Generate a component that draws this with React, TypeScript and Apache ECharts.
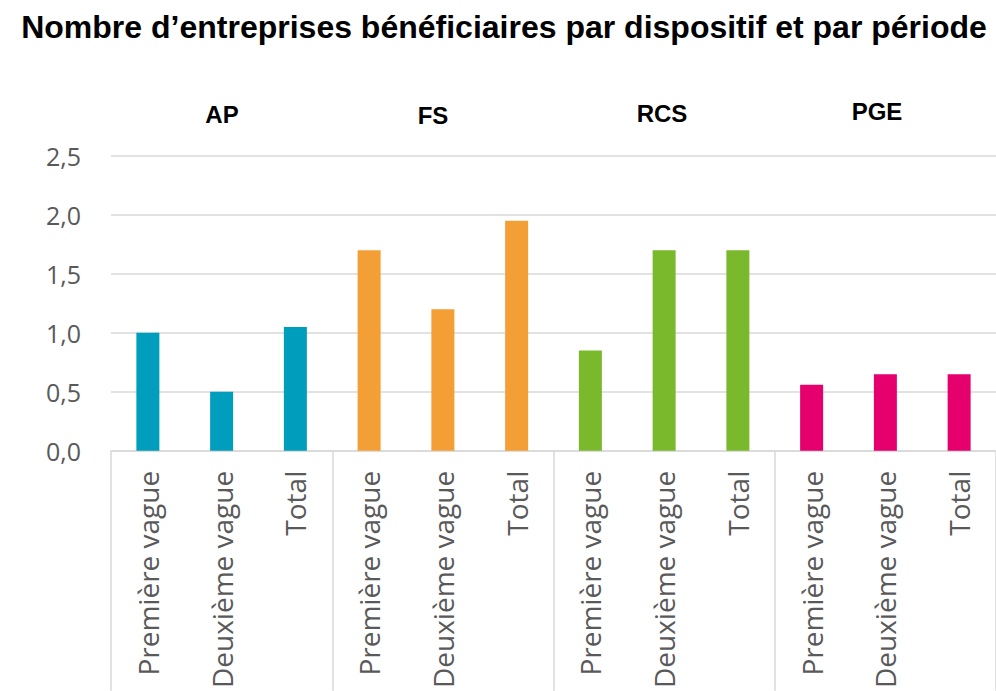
import React, { useEffect, useRef } from "react";
import * as echarts from "echarts";

const titleText = "Nombre d’entreprises bénéficiaires par dispositif et par période";
const periods = ["Première vague", "Deuxième vague", "Total"];
const groups = ["AP", "FS", "RCS", "PGE"];
const apValues = [1.0, 0.5, 1.05];
const fsValues = [1.7, 1.2, 1.95];
const rcsValues = [0.85, 1.7, 1.7];
const pgeValues = [0.56, 0.65, 0.65];
const groupColors = ["#009EBD", "#F49E36", "#7AB92B", "#E5006E"];
const yMin = 0;
const yMax = 2.5;
const yInterval = 0.5;

const categories = groups.flatMap(() => periods);
const values = [...apValues, ...fsValues, ...rcsValues, ...pgeValues];

export default function App() {
  const ref = useRef<HTMLDivElement>(null);
  useEffect(() => {
    if (!ref.current) return;
    const chart = echarts.init(ref.current, null, { renderer: "svg" });
    const groupLabelPos = [
      { x: 222, y: 114 },
      { x: 433, y: 115 },
      { x: 662, y: 113 },
      { x: 877, y: 111 },
    ];
    chart.setOption({
      animation: false,
      backgroundColor: "#ffffff",
      grid: { left: 111, right: -3, top: 156, bottom: 239 },
      xAxis: {
        type: "category",
        data: categories,
        axisLine: { show: true, lineStyle: { color: "#d9d9d9", width: 1.5 } },
        axisTick: {
          show: true,
          interval: (i: number) => i % 3 === 0,
          length: 240,
          lineStyle: { color: "#d9d9d9", width: 1.5 },
        },
        axisLabel: {
          interval: 0,
          rotate: 90,
          margin: 20,
          fontSize: 28,
          fontFamily: "Open Sans",
          color: "#595959",
        },
      },
      yAxis: {
        type: "value",
        min: yMin,
        max: yMax,
        interval: yInterval,
        axisLine: { show: false },
        axisTick: { show: false },
        splitLine: { lineStyle: { color: "#d9d9d9", width: 1.5 } },
        axisLabel: {
          margin: 30,
          fontSize: 25,
          fontFamily: "Open Sans",
          color: "#595959",
          formatter: (v: number) => v.toFixed(1).replace(".", ","),
        },
      },
      series: [
        {
          type: "bar",
          data: values,
          barWidth: 23,
          itemStyle: {
            color: (p: any) => groupColors[Math.floor(p.dataIndex / periods.length)],
          },
        },
      ],
      graphic: [
        {
          type: "text",
          x: 504,
          y: 27,
          style: {
            text: titleText,
            align: "center",
            verticalAlign: "middle",
            fontSize: 32,
            fontWeight: "bold",
            fontFamily: "Liberation Sans",
            fill: "#000000",
          },
        },
        ...groups.map((g, i) => ({
          type: "text",
          x: groupLabelPos[i].x,
          y: groupLabelPos[i].y,
          style: {
            text: g,
            align: "center",
            verticalAlign: "middle",
            fontSize: 24,
            fontWeight: "bold",
            fontFamily: "Liberation Sans",
            fill: "#000000",
          },
        })),
      ],
    });
    return () => chart.dispose();
  }, []);
  return (
    <div
      ref={ref}
      style={{ position: "fixed", left: 0, top: 0, width: 996, height: 691, background: "#fff" }}
    />
  );
}
